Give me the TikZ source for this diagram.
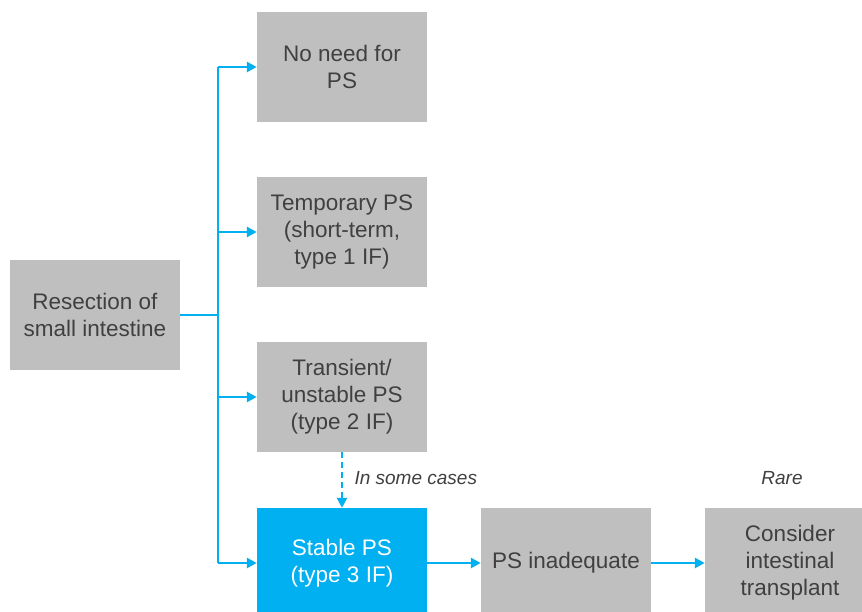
\documentclass[tikz,border=0pt]{standalone}
\usepackage{fontspec}
\setmainfont{Liberation Sans}
\usetikzlibrary{arrows.meta}
\definecolor{boxgray}{HTML}{BFBFBF}
\definecolor{lblue}{HTML}{00B0F0}
\definecolor{txt}{HTML}{404040}
\begin{document}
\begin{tikzpicture}[x=1pt,y=-1pt,
  box/.style={fill=boxgray,draw=none,minimum width=170pt,minimum height=110pt,
    align=center,text=txt,font=\fontsize{22.5}{27}\selectfont,inner sep=0pt},
  bluebox/.style={box,fill=lblue,text=white},
  trunk/.style={draw=lblue,line width=2.5pt},
  conn/.style={trunk,-{Triangle[length=10pt,width=10pt]}},
  lbl/.style={text=txt,font=\fontsize{19}{23}\selectfont\itshape}]
\clip (0,0) rectangle (862,612);
\fill[white] (0,0) rectangle (862,612);
\node[box] (res) at (95,315) {Resection of\\small intestine};
\node[box] (no) at (342,67) {No need for\\PS};
\node[box] (temp) at (342,232) {Temporary PS\\(short-term,\\type 1 IF)};
\node[box] (trans) at (342,397) {Transient/\\unstable PS\\(type 2 IF)};
\node[bluebox] (stab) at (342,563) {Stable PS\\(type 3 IF)};
\node[box] (inad) at (566,563) {PS inadequate};
\node[box] (cons) at (790,563) {Consider\\intestinal\\transplant};
\coordinate (top) at (218,67);
\coordinate (bot) at (218,563);
\coordinate (mid) at (218,315);
\draw[trunk] (res.east |- mid) -- (mid);
\draw[trunk] (top) -- (bot);
\draw[conn] (top) -- (no.west);
\draw[conn] (218,232) -- (temp.west);
\draw[conn] (218,397) -- (trans.west);
\draw[conn] (bot) -- (stab.west);
\draw[conn] (stab.east) -- (inad.west);
\draw[conn] (inad.east) -- (cons.west);
\draw[conn,dashed,dash pattern=on 6pt off 4pt] (trans.south) -- (stab.north);
\node[lbl,anchor=west] (some) at (351,478) {In some cases};
\node[lbl] (rare) at (782,478) {Rare};
\end{tikzpicture}
\end{document}
